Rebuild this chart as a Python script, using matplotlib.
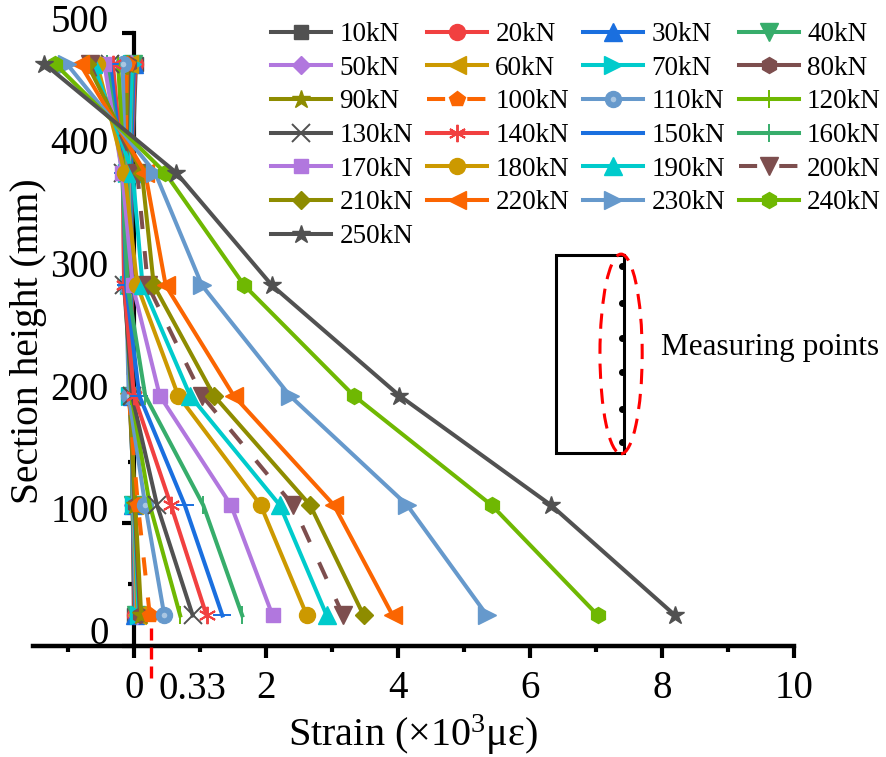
import numpy as np
import matplotlib
matplotlib.use('Agg')
import matplotlib.pyplot as plt
from matplotlib.legend_handler import HandlerTuple
from matplotlib.patches import Ellipse, Rectangle
from matplotlib.transforms import ScaledTranslation

plt.rcParams['font.family'] = ['Liberation Serif', 'DejaVu Serif']
plt.rcParams['mathtext.default'] = 'regular'

# section heights of the gauges (mm)
heights = [24.5, 114.5, 204, 294, 386, 475]

loads = ['10kN', '20kN', '30kN', '40kN', '50kN', '60kN', '70kN', '80kN', '90kN', '100kN',
         '110kN', '120kN', '130kN', '140kN', '150kN', '160kN', '170kN', '180kN', '190kN',
         '200kN', '210kN', '220kN', '230kN', '240kN', '250kN']

s10 = [0.00, -0.02, -0.02, -0.03, -0.03, 0.03]
s20 = [0.01, -0.02, -0.03, -0.04, -0.05, 0.02]
s30 = [0.02, -0.02, -0.03, -0.05, -0.05, 0.00]
s40 = [0.03, -0.02, -0.04, -0.06, -0.07, -0.02]
s50 = [0.04, -0.01, -0.05, -0.07, -0.08, -0.04]
s60 = [0.05, 0.00, -0.05, -0.07, -0.09, -0.08]
s70 = [0.07, 0.00, -0.06, -0.08, -0.10, -0.03]
s80 = [0.09, 0.01, -0.07, -0.09, -0.12, -0.08]
s90 = [0.11, 0.02, -0.07, -0.10, -0.13, -0.10]
s100 = [0.24, 0.06, -0.08, -0.11, -0.13, -0.11]
s110 = [0.46, 0.17, -0.08, -0.12, -0.14, -0.17]
s120 = [0.70, 0.24, -0.04, -0.14, -0.15, -0.24]
s130 = [0.89, 0.35, -0.03, -0.15, -0.16, -0.36]
s140 = [1.10, 0.56, 0.00, -0.15, -0.17, -0.32]
s150 = [1.34, 0.77, 0.08, -0.12, -0.17, -0.36]
s160 = [1.64, 1.05, 0.17, -0.10, -0.18, -0.41]
s170 = [2.10, 1.47, 0.39, -0.02, -0.18, -0.45]
s180 = [2.62, 1.92, 0.67, 0.05, -0.14, -0.56]
s190 = [2.92, 2.21, 0.85, 0.13, -0.02, -0.62]
s200 = [3.17, 2.41, 1.03, 0.21, 0.05, -0.67]
s210 = [3.48, 2.67, 1.21, 0.30, 0.12, -0.71]
s220 = [3.92, 3.03, 1.51, 0.48, 0.17, -0.82]
s230 = [5.35, 4.14, 2.36, 1.03, 0.32, -1.02]
s240 = [7.03, 5.42, 3.33, 1.67, 0.47, -1.20]
s250 = [8.20, 6.32, 4.02, 2.09, 0.64, -1.36]
strains = [s10, s20, s30, s40, s50, s60, s70, s80, s90, s100, s110, s120, s130,
           s140, s150, s160, s170, s180, s190, s200, s210, s220, s230, s240, s250]

gray, red, blue, green = '#515151', '#F14040', '#1A6FDF', '#37AD6B'
purple, gold, teal, brown = '#B177DE', '#CC9900', '#00CBCC', '#7D4E4E'
olive, orange, steel, lime = '#8E8C00', '#FB6501', '#6699CC', '#6FB802'
colors = [gray, red, blue, green, purple, gold, teal, brown, olive, orange, steel, lime,
          gray, red, blue, green, purple, gold, teal, brown, olive, orange, steel, lime, gray]
markers = ['s', 'o', '^', 'v', 'D', '<', '>', 'h', '*', 'p', 'o', '|', 'x', (6, 2, 0),
           '_', '|', 's', 'o', '^', 'v', 'D', '<', '>', 'h', '*']

# inset sketch of the section
gauge_heights = [310, 280, 251, 223, 193, 166]

W, H = 886, 757
fig = plt.figure(figsize=(W / 100, H / 100), dpi=100)
ax = fig.add_axes([33 / W, 1 - 645.5 / H, (794 - 33) / W, (645.5 - 33) / H])

handles = {}
for name, xs, c, m in zip(loads, strains, colors, markers):
    dashed = name in ('100kN', '200kN')
    ls = (0, (4.5, 5.5)) if dashed else '-'
    ms = 10.5
    mew = 1.0
    if m == '*':
        ms = 13.5
    elif m == 'D':
        ms = 9.5
    elif m in ('^', 'v', '<', '>'):
        ms = 12.5
    elif m in ('h', 'p', 'o'):
        ms = 11.5
    elif m in ('|', '_', 'x', (6, 2, 0)):
        ms = 12.5
        mew = 1.4
    line, = ax.plot(xs, heights, color=c, lw=2.9, ls=ls, marker=m, ms=ms,
                    mew=mew, mec=c, clip_on=False, label=name, zorder=3)
    handles[name] = line
    if name == '110kN':
        shine, = ax.plot(xs, heights, ls='none', marker='o', ms=4, mfc='#A9C6E2',
                         mec='none', clip_on=False, zorder=3)
        handles[name] = (line, shine)

ax.set_xlim(-1.53, 10)
ax.set_ylim(0, 500)
for s in ('top', 'right'):
    ax.spines[s].set_visible(False)
ax.spines['left'].set_position(('data', 0))
ax.spines['left'].set_linewidth(3)
ax.spines['bottom'].set_linewidth(3.2)
ax.set_xticks([0, 2, 4, 6, 8, 10])
ax.set_xticks([-1, 1, 3, 5, 7, 9], minor=True)
ax.set_yticks([0, 100, 200, 300, 400, 500])
ax.set_yticks([50, 150, 250, 350, 450], minor=True)
ax.tick_params(which='major', length=8.5, width=3, labelsize=28, pad=9)
ax.tick_params(which='minor', length=4.5, width=3)
# y labels sit above their ticks in the original
shift = ScaledTranslation(-1 / 100, 15 / 100, fig.dpi_scale_trans)
for lab in ax.get_yticklabels():
    lab.set_transform(lab.get_transform() + shift)

# 0.33 cracking strain marker
ax.plot([0.26, 0.26], [14, -27], color='red', lw=2.4, ls=(0, (3.6, 2.1)), clip_on=False, zorder=6)
ax.text(0.88, -21, '0.33', fontsize=28, ha='center', va='top')

ax.set_xlabel('Strain (×10$^{3}$με)', fontsize=29, labelpad=4)
fig.text(29 / W, 1 - 341 / H, 'Section height (mm)', fontsize=28.5, rotation=90,
         ha='center', va='center')

order = [loads[i] for col in range(4) for i in range(col, 25, 4)]
leg = ax.legend([handles[n] for n in order], order, ncol=4, frameon=False, fontsize=19.5,
                handlelength=2.23, handletextpad=0.3, columnspacing=0.5, labelspacing=0.32,
                loc='upper left', bbox_to_anchor=(271 / W, 1 - 22 / H),
                bbox_transform=fig.transFigure, borderpad=0, borderaxespad=0,
                handler_map={tuple: HandlerTuple(ndivide=1, pad=0)})

# section sketch with gauge points
ax.add_patch(Rectangle((6.39, 157), 1.04, 162, fill=False, ec='black', lw=2.2, zorder=4))
ax.add_patch(Ellipse((7.38, 238), 0.64, 163, fill=False, ec='red', lw=2.2,
                     ls=(0, (5, 3.2)), zorder=4))
ax.plot([7.4] * len(gauge_heights), gauge_heights, 'o', color='black', ms=4, zorder=5)
ax.text(7.98, 243, 'Measuring points', fontsize=22.5, va='center', ha='left')

fig.savefig('out.png', dpi=100)
